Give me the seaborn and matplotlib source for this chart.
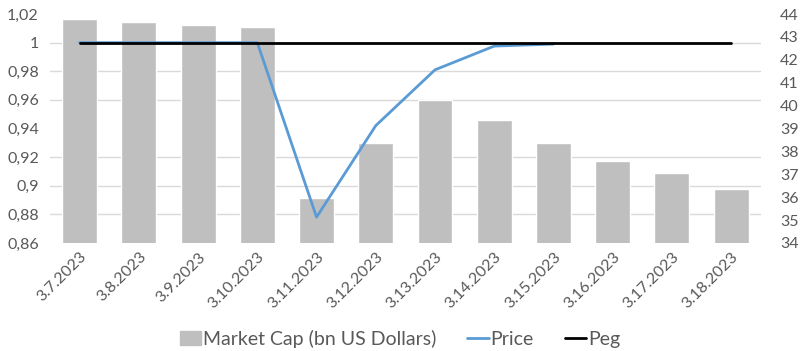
import numpy as np
import pandas as pd
import seaborn as sns
import matplotlib.pyplot as plt
from matplotlib.patches import Patch
from matplotlib.lines import Line2D

dates = ["3.7.2023", "3.8.2023", "3.9.2023", "3.10.2023", "3.11.2023", "3.12.2023",
         "3.13.2023", "3.14.2023", "3.15.2023", "3.16.2023", "3.17.2023", "3.18.2023"]
market_cap = [43.78, 43.65, 43.5, 43.45, 35.94, 38.37, 40.24, 39.35, 38.37, 37.6, 37.06, 36.36]
price = [1.0, 1.0, 1.0, 1.0, 0.878, 0.942, 0.981, 0.9976, 0.999, np.nan, np.nan, np.nan]
peg = [1.0] * 12

price_ticks = [0.86, 0.88, 0.90, 0.92, 0.94, 0.96, 0.98, 1.00, 1.02]
price_labels = ["0,86", "0,88", "0,9", "0,92", "0,94", "0,96", "0,98", "1", "1,02"]
cap_ticks = list(range(34, 45))

sns.set_style("white")
plt.rcParams["font.family"] = ["Lato", "DejaVu Sans"]
text_col = "#595959"

fig = plt.figure(figsize=(8, 3.51), dpi=100)
ax = fig.add_subplot()
df = pd.DataFrame({"date": dates, "cap": market_cap, "price": price, "peg": peg})
pos = np.arange(len(dates))

# bars on the bottom axes (right-hand scale), grid follows the left price scale
sns.barplot(data=df, x="date", y="cap", color="#BFBFBF", saturation=1, width=0.59, ax=ax, zorder=2)
ax2 = ax.twinx()

ax.set_ylim(34, 44)
ax.yaxis.tick_right()
ax.set_yticks(cap_ticks)
ax.set_yticks(np.linspace(34, 44, len(price_ticks)), minor=True)
ax.grid(False)
ax.grid(True, which="minor", axis="y", color="#D9D9D9", linewidth=1, zorder=0)
ax.set_axisbelow(True)
ax.tick_params(axis="y", which="both", length=0, labelsize=11.5, labelcolor=text_col, pad=14)
ax.set_xlim(-0.5, len(dates) - 0.5)
ax.set_xticks(pos)
ax.set_xticklabels(dates, rotation=45, ha="right", rotation_mode="anchor")
ax.tick_params(axis="x", length=0, labelsize=11.5, labelcolor=text_col, pad=5)
ax.set_xlabel("")
ax.set_ylabel("")

sns.lineplot(x=pos, y=df["price"], color="#5B9BD5", linewidth=2, ax=ax2)
sns.lineplot(x=pos, y=df["peg"], color="black", linewidth=2, ax=ax2)
ax2.yaxis.tick_left()
ax2.set_ylim(0.86, 1.02)
ax2.set_yticks(price_ticks)
ax2.set_yticklabels(price_labels)
ax2.tick_params(axis="y", length=0, labelsize=11.5, labelcolor=text_col, pad=8)
ax2.set_ylabel("")
ax2.grid(False)

for a in (ax, ax2):
    for s in a.spines.values():
        s.set_visible(False)

handles = [Patch(color="#BFBFBF"), Line2D([], [], color="#5B9BD5", linewidth=2),
           Line2D([], [], color="black", linewidth=2)]
fig.legend(handles, ["Market Cap (bn US Dollars)", "Price", "Peg"], loc="lower center",
           bbox_to_anchor=(0.5, -0.04), ncol=3, frameon=False, fontsize=14,
           labelcolor=text_col, handlelength=1.1, handletextpad=0.1, columnspacing=1.6)

fig.subplots_adjust(left=0.0625, right=0.951, top=0.96, bottom=0.308)
fig.savefig("out.png", dpi=100)
